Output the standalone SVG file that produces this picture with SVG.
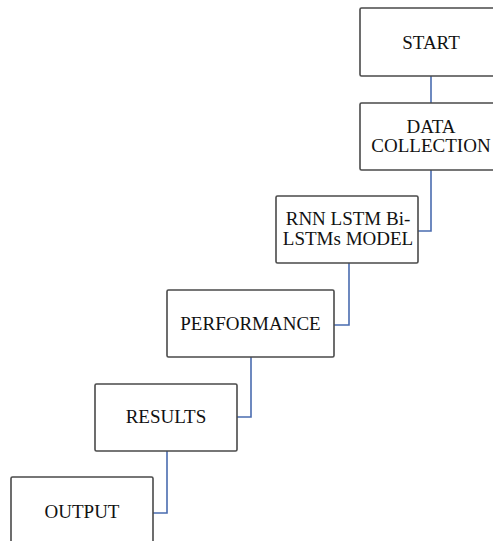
<svg xmlns="http://www.w3.org/2000/svg" width="493" height="541" viewBox="0 0 493 541">
  <style>
    .box { fill: #ffffff; stroke: #4a4a4a; stroke-width: 1.6; }
    .label { font-family: "Liberation Serif", "Times New Roman", serif; font-size: 19px; fill: #111111; text-anchor: middle; }
    .link { fill: none; stroke: #4a6cb0; stroke-width: 1.6; }
  </style>
  <rect width="493" height="541" fill="#ffffff"/>

  <!-- connectors: elbow lines from the bottom of each step to the side of the next -->
  <g id="connectors">
    <path class="link" d="M431,76 V103"/>
    <path class="link" d="M431,170 V231 H418"/>
    <path class="link" d="M349,263 V325 H334"/>
    <path class="link" d="M251,357 V417 H237"/>
    <path class="link" d="M167,451 V513 H153"/>
  </g>

  <g id="start">
    <rect class="box" x="360" y="8" width="142" height="68" rx="1.5"/>
    <text class="label" x="431" y="48.5">START</text>
  </g>

  <g id="data-collection">
    <rect class="box" x="360" y="103" width="142" height="67" rx="1.5"/>
    <text class="label" x="431" y="133">DATA</text>
    <text class="label" x="431" y="152">COLLECTION</text>
  </g>

  <g id="model">
    <rect class="box" x="276" y="196" width="142" height="67" rx="1.5"/>
    <text class="label" x="348" y="225">RNN LSTM Bi-</text>
    <text class="label" x="348" y="245">LSTMs MODEL</text>
  </g>

  <g id="performance">
    <rect class="box" x="167" y="290" width="167" height="67" rx="1.5"/>
    <text class="label" x="250.5" y="329.5">PERFORMANCE</text>
  </g>

  <g id="results">
    <rect class="box" x="95" y="384" width="142" height="67" rx="1.5"/>
    <text class="label" x="166" y="423">RESULTS</text>
  </g>

  <g id="output">
    <rect class="box" x="11" y="477" width="142" height="80" rx="1.5"/>
    <text class="label" x="82" y="518">OUTPUT</text>
  </g>
</svg>
